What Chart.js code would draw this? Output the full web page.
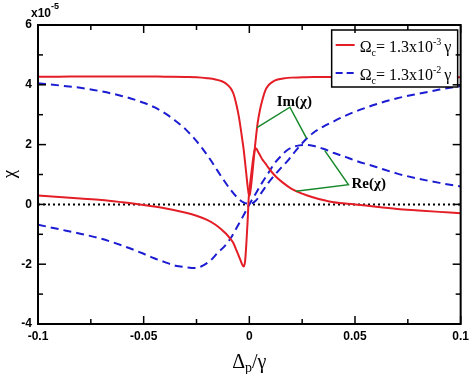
<!DOCTYPE html>
<html>
<head>
<meta charset="utf-8">
<script src="https://cdn.jsdelivr.net/npm/chart.js@4"></script>
<style>
  html, body { margin: 0; padding: 0; background: #fff; }
  #chart { display: block; }
</style>
</head>
<body>
<canvas id="chart" width="474" height="374"></canvas>
<script>
// Detuning samples (denser near resonance for the narrow feature)
const xRed = [-0.1, -0.09, -0.08, -0.07, -0.06, -0.05, -0.04, -0.03, -0.025, -0.02, -0.016, -0.013, -0.011, -0.009,
  -0.0075, -0.006, -0.005, -0.004, -0.0033, -0.0027, -0.002, -0.0014, -0.0008, -0.0003, 0, 0.0003, 0.0008, 0.0014,
  0.002, 0.0027, 0.0033, 0.004, 0.005, 0.006, 0.0075, 0.009, 0.011, 0.013, 0.016, 0.02, 0.025, 0.03, 0.04, 0.05,
  0.06, 0.07, 0.08, 0.09, 0.1];
const redIm = [4.27, 4.27, 4.28, 4.28, 4.28, 4.28, 4.27, 4.26, 4.25, 4.22, 4.18, 4.12, 4.04, 3.9,
  3.7, 3.3, 2.95, 2.5, 2.15, 1.85, 1.4, 1.0, 0.6, 0.35, 0.3, 0.35, 0.6, 1.0,
  1.45, 1.95, 2.35, 2.75, 3.15, 3.45, 3.8, 3.98, 4.1, 4.17, 4.21, 4.24, 4.25, 4.26, 4.26, 4.26,
  4.26, 4.26, 4.26, 4.25, 4.25];
const redRe = [0.3, 0.25, 0.2, 0.15, 0.07, -0.02, -0.13, -0.28, -0.38, -0.52, -0.68, -0.85, -0.98, -1.15,
  -1.3, -1.55, -1.72, -1.9, -2.02, -2.08, -1.9, -1.3, -0.55, 0.2, 0.45, 0.65, 0.95, 1.3,
  1.62, 1.85, 1.87, 1.78, 1.65, 1.52, 1.38, 1.23, 1.05, 0.9, 0.72, 0.52, 0.36, 0.24, 0.07, 0.0,
  -0.08, -0.15, -0.2, -0.25, -0.3];

const xBlue = [-0.1, -0.09, -0.08, -0.07, -0.06, -0.05, -0.045, -0.04, -0.035, -0.03, -0.026, -0.022, -0.018,
  -0.015, -0.012, -0.009, -0.006, -0.003, 0, 0.003, 0.006, 0.009, 0.012, 0.015, 0.018, 0.022, 0.026, 0.03,
  0.035, 0.04, 0.045, 0.05, 0.06, 0.07, 0.08, 0.09, 0.1];
const blueIm = [4.05, 3.98, 3.9, 3.78, 3.62, 3.4, 3.25, 3.05, 2.8, 2.5, 2.2, 1.85, 1.45,
  1.12, 0.8, 0.5, 0.25, 0.08, 0.02, 0.12, 0.42, 0.72, 0.98, 1.22, 1.45, 1.8, 2.12, 2.38,
  2.6, 2.78, 2.95, 3.1, 3.35, 3.55, 3.7, 3.84, 3.96];
const blueRe = [-0.68, -0.83, -0.98, -1.15, -1.38, -1.65, -1.8, -1.93, -2.05, -2.1, -2.13, -2.05, -1.85,
  -1.62, -1.42, -1.15, -0.78, -0.4, 0, 0.36, 0.72, 1.05, 1.38, 1.62, 1.82, 1.95, 1.99, 1.96,
  1.86, 1.72, 1.6, 1.47, 1.25, 1.03, 0.86, 0.72, 0.6];

// Zero reference line
const zeroX = [-0.1, 0.1];
const zeroY = [0, 0];

// Annotation pointers
const imPointerX = [0.0036, 0.0192, 0.0271];
const imPointerY = [2.57, 3.25, 2.21];
const rePointerX = [0.022, 0.0469, 0.0357];
const rePointerY = [0.44, 0.66, 1.80];

// Axes
const xMajorTicks = [-0.1, -0.05, 0, 0.05, 0.1];
const xTickLabels = ['-0.1', '-0.05', '0', '0.05', '0.1'];
const xMinorTicks = [-0.075, -0.025, 0.025, 0.075];
const yMajorTicks = [-4, -2, 0, 2, 4, 6];
const yTickLabels = ['-4', '-2', '0', '2', '4', '6'];
const yMinorTicks = [-3, -1, 1, 3, 5];

const seriesLabels = ['1.3x10', '1.3x10'];
const seriesExponents = ['-3', '-2'];

const RED = '#e41e26';
const BLUE = '#1c1cd2';
const GREEN = '#17892a';
const SERIF = '"Liberation Serif", "Times New Roman", serif';
const SANS = '"Liberation Sans", Arial, sans-serif';

const toPoints = (xs, ys) => xs.map((x, i) => ({ x, y: ys[i] }));

// Draws text pieces with sub/superscripts, left to right
const drawRich = (ctx, x, y, parts) => {
  parts.forEach(p => {
    ctx.font = p.font;
    ctx.fillText(p.text, x, y + (p.dy || 0));
    x += ctx.measureText(p.text).width + (p.gap || 0);
  });
  return x;
};

const decorations = {
  id: 'decorations',
  afterDatasetsDraw(chart) {
    const { ctx, chartArea: a, scales: { x, y } } = chart;
    ctx.save();

    // Curve labels
    ctx.fillStyle = '#000';
    ctx.font = 'bold 15px ' + SERIF;
    ctx.textAlign = 'center';
    ctx.textBaseline = 'middle';
    ctx.fillText('Im(\u03C7)', x.getPixelForValue(0.0213), y.getPixelForValue(3.42));
    ctx.fillText('Re(\u03C7)', x.getPixelForValue(0.0565), y.getPixelForValue(0.67));

    // Legend box
    const bx = a.right - 129, by = a.top + 5, bw = 126, bh = 57;
    ctx.fillStyle = '#fff';
    ctx.fillRect(bx, by, bw, bh);
    ctx.strokeStyle = '#000';
    ctx.lineWidth = 1.5;
    ctx.strokeRect(bx, by, bw, bh);

    const rows = [
      { color: RED, dash: [], yLine: by + 15, base: by + 22 },
      { color: BLUE, dash: [7, 4], yLine: by + 43, base: by + 50 }
    ];
    rows.forEach((r, i) => {
      ctx.strokeStyle = r.color;
      ctx.lineWidth = 2;
      ctx.setLineDash(r.dash);
      ctx.beginPath();
      ctx.moveTo(bx + 4, r.yLine);
      ctx.lineTo(bx + 23, r.yLine);
      ctx.stroke();
      ctx.setLineDash([]);
      ctx.fillStyle = '#000';
      ctx.textAlign = 'left';
      ctx.textBaseline = 'alphabetic';
      drawRich(ctx, bx + 28, r.base, [
        { text: '\u03A9', font: '16px ' + SERIF },
        { text: 'c', font: '10px ' + SERIF, dy: 4 },
        { text: '= ' + seriesLabels[i], font: '16px ' + SERIF },
        { text: seriesExponents[i], font: '10px ' + SERIF, dy: -7, gap: 3 },
        { text: '\u03B3', font: '16px ' + SERIF }
      ]);
    });
    ctx.restore();
  },
  afterDraw(chart) {
    const { ctx, chartArea: a, scales: { x, y } } = chart;
    ctx.save();
    ctx.strokeStyle = '#000';

    // Inner tick marks on all four sides
    ctx.lineWidth = 1.5;
    const tick = (px, py, dx, dy) => {
      ctx.beginPath();
      ctx.moveTo(px, py);
      ctx.lineTo(px + dx, py + dy);
      ctx.stroke();
    };
    [[xMajorTicks, 8], [xMinorTicks, 5]].forEach(([vals, len]) => vals.forEach(v => {
      const px = x.getPixelForValue(v);
      tick(px, a.bottom, 0, -len);
      tick(px, a.top, 0, len);
    }));
    [[yMajorTicks, 8], [yMinorTicks, 5]].forEach(([vals, len]) => vals.forEach(v => {
      const py = y.getPixelForValue(v);
      tick(a.left, py, len, 0);
      tick(a.right, py, -len, 0);
    }));

    // Frame
    ctx.lineWidth = 2;
    ctx.strokeRect(a.left, a.top, a.right - a.left, a.bottom - a.top);

    // Axis multiplier
    ctx.fillStyle = '#000';
    ctx.textAlign = 'left';
    ctx.textBaseline = 'alphabetic';
    drawRich(ctx, 31, 17, [
      { text: 'x10', font: 'bold 12px ' + SANS },
      { text: '-5', font: 'bold 9px ' + SANS, dy: -8 }
    ]);

    // X title
    ctx.font = '20px ' + SERIF;
    const w1 = ctx.measureText('\u0394').width;
    const w3 = ctx.measureText('/\u03B3').width;
    ctx.font = '14px ' + SERIF;
    const w2 = ctx.measureText('p').width;
    drawRich(ctx, (a.left + a.right) / 2 - (w1 + w2 + w3) / 2, 368, [
      { text: '\u0394', font: '20px ' + SERIF },
      { text: 'p', font: '14px ' + SERIF, dy: 4 },
      { text: '/\u03B3', font: '20px ' + SERIF }
    ]);

    // Y title
    ctx.translate(10, 174);
    ctx.rotate(-Math.PI / 2);
    ctx.font = '19px ' + SERIF;
    ctx.textAlign = 'center';
    ctx.textBaseline = 'middle';
    ctx.fillText('\u03C7', 0, 0);
    ctx.restore();
  }
};

new Chart(document.getElementById('chart'), {
  type: 'line',
  data: {
    datasets: [
      { data: toPoints(imPointerX, imPointerY), borderColor: GREEN, borderWidth: 1.5, tension: 0 },
      { data: toPoints(rePointerX, rePointerY), borderColor: GREEN, borderWidth: 1.5, tension: 0 },
      { data: toPoints(xRed, redIm), borderColor: RED, borderWidth: 2, cubicInterpolationMode: 'monotone' },
      { data: toPoints(xRed, redRe), borderColor: RED, borderWidth: 2, cubicInterpolationMode: 'monotone' },
      { data: toPoints(xBlue, blueIm), borderColor: BLUE, borderWidth: 2, borderDash: [8, 5], cubicInterpolationMode: 'monotone' },
      { data: toPoints(xBlue, blueRe), borderColor: BLUE, borderWidth: 2, borderDash: [8, 5], cubicInterpolationMode: 'monotone' },
      { data: toPoints(zeroX, zeroY), borderColor: '#000', borderWidth: 2, borderDash: [2, 3] }
    ]
  },
  options: {
    responsive: false,
    animation: false,
    devicePixelRatio: 1,
    layout: { padding: { top: 25, right: 8, left: 0, bottom: 0 } },
    elements: { point: { radius: 0 } },
    plugins: { legend: { display: false }, tooltip: { enabled: false } },
    scales: {
      x: {
        type: 'linear',
        min: -0.1,
        max: 0.1,
        afterFit: s => { s.height = 50; },
        afterBuildTicks: s => { s.ticks = xMajorTicks.map(v => ({ value: v })); },
        grid: { display: false, drawTicks: false },
        border: { display: false },
        ticks: {
          padding: 5,
          color: '#000',
          maxRotation: 0,
          font: { family: SANS, weight: 'bold', size: 12 },
          callback: (v, i) => xTickLabels[i]
        }
      },
      y: {
        type: 'linear',
        min: -4,
        max: 6,
        afterFit: s => { s.width = 38; },
        afterBuildTicks: s => { s.ticks = yMajorTicks.map(v => ({ value: v })); },
        grid: { display: false, drawTicks: false },
        border: { display: false },
        ticks: {
          padding: 6,
          color: '#000',
          font: { family: SANS, weight: 'bold', size: 12 },
          callback: (v, i) => yTickLabels[i]
        }
      }
    }
  },
  plugins: [decorations]
});
</script>
</body>
</html>
